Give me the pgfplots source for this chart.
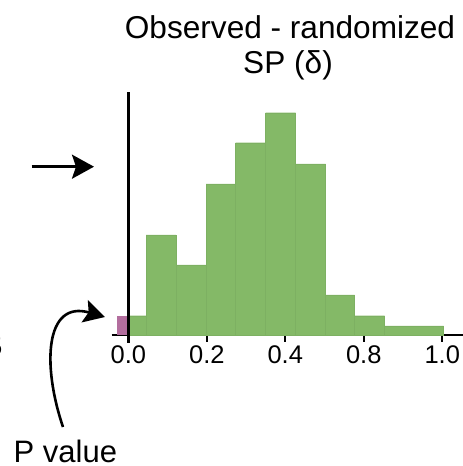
\documentclass[border=0pt]{standalone}
\usepackage{pgfplots}
\pgfplotsset{compat=1.18}
\usepackage{fontspec}
\setmainfont{Liberation Sans}
\usetikzlibrary{arrows.meta}
\definecolor{hgreen}{RGB}{132,185,103}
\definecolor{hpurple}{RGB}{179,110,158}
\begin{document}
\begin{tikzpicture}[x=1bp,y=1bp]
\useasboundingbox (0,0) rectangle (463,466);
\begin{axis}[
    at={(111.7bp,131bp)}, anchor=south west,
    scale only axis,
    width=352.3bp, height=243bp,
    xmin=-0.0423, xmax=0.8554,
    ymin=0, ymax=24.3,
    axis x line*=bottom,
    axis y line=none,
    axis line style={line width=2.3bp},
    xtick={0,0.2,0.4,0.6,0.8},
    xticklabels={0.0,0.2,0.4,0.8,1.0},
    tick align=outside,
    major tick length=7bp,
    xtick style={line width=2bp, black},
    xticklabel style={font=\fontsize{25.5bp}{30bp}\selectfont, inner sep=0pt, anchor=north, yshift=-3bp},
    /pgf/number format/assume math mode=true,
    clip=false,
]
% green histogram (bin left edges, last entry is right edge)
\addplot[ybar interval, fill=hgreen, draw=hgreen!95!black, line width=0.3bp] coordinates {
    (0.0000,1.93) (0.0451,10.0) (0.1215,7.0) (0.1980,15.1) (0.2734,19.23)
    (0.3499,22.23) (0.4263,17.1) (0.5027,4.0) (0.5766,1.93) (0.6530,0.9)
    (0.8034,0.9)
};
% purple part left of zero
\addplot[ybar interval, fill=hpurple, draw=none] coordinates {
    (-0.0288,1.93) (0.0,1.93)
};
\draw[line width=2.7bp] (axis cs:0,-0.8) -- (axis cs:0,24.3);
\end{axis}

\node[anchor=base, font=\fontsize{31.6bp}{36bp}\selectfont] at (290,427) {Observed - randomized};
\node[anchor=base, font=\fontsize{31.6bp}{36bp}\selectfont] at (288,392) {SP (δ)};
\node[anchor=base west, inner sep=0pt, font=\fontsize{31bp}{36bp}\selectfont] at (13.5,3.6) {P value};
\node[anchor=base east, inner sep=0pt, font=\fontsize{25.5bp}{30bp}\selectfont] at (2.5,110) {5};

\draw[line width=2.6bp, -{Stealth[length=22bp, width=24bp, inset=4bp]}] (31.7,299.3) -- (94,299.3);
\draw[line width=2.6bp, -{Stealth[length=21bp, width=23bp, inset=4bp]}] (63,39) .. controls (42,101) and (45,166) .. (105,149);
\end{tikzpicture}
\end{document}
